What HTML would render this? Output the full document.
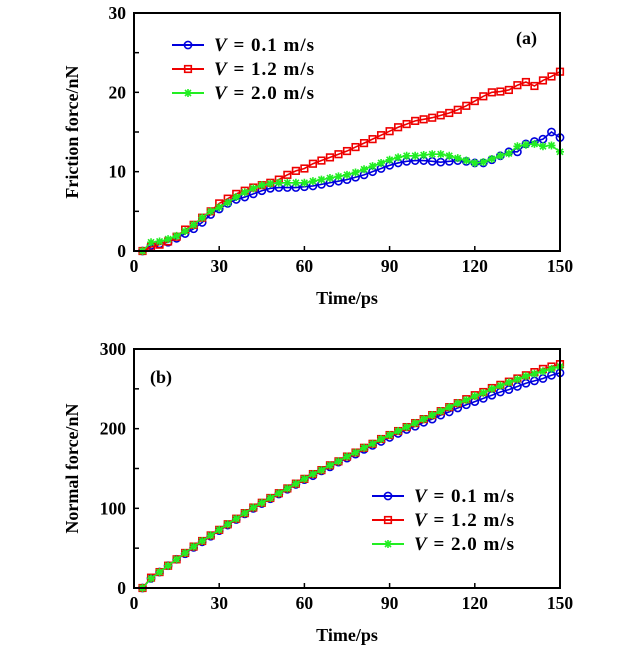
<!DOCTYPE html>
<html><head><meta charset="utf-8"><style>
body{margin:0;background:#fff}
svg text{font-family:"Liberation Serif",serif;font-weight:bold;fill:#000}
</style></head><body>
<svg id="chart" width="630" height="654" viewBox="0 0 630 654" xmlns="http://www.w3.org/2000/svg"></svg>
<script>
const times=[3,6,9,12,15,18,21,24,27,30,33,36,39,42,45,48,51,54,57,60,63,66,69,72,75,78,81,84,87,90,93,96,99,102,105,108,111,114,117,120,123,126,129,132,135,138,141,144,147,150];
const fricBlue=[0,0.7,0.9,1.1,1.6,2.2,2.8,3.6,4.6,5.3,6,6.5,6.8,7.2,7.6,7.9,8,8,8,8.1,8.2,8.4,8.6,8.8,9,9.3,9.6,10,10.4,10.8,11.1,11.3,11.4,11.4,11.3,11.2,11.3,11.4,11.3,11.1,11.1,11.5,12,12.5,12.5,13.5,13.8,14.1,15,14.3];
const fricRed=[0,0.5,0.8,1.2,1.8,2.7,3.3,4.2,5,6,6.6,7.2,7.6,8,8.3,8.6,9,9.6,10.1,10.4,11,11.4,11.8,12.2,12.6,13.1,13.6,14.1,14.6,15.1,15.6,16,16.4,16.6,16.8,17.1,17.4,17.8,18.3,18.9,19.5,20,20.1,20.3,20.9,21.3,20.8,21.5,22,22.6];
const fricGreen=[0,1.1,1.2,1.5,1.9,2.5,3.3,4.2,5,5.5,6.1,6.8,7.4,7.9,8.3,8.5,8.6,8.6,8.6,8.6,8.8,9,9.2,9.4,9.6,9.9,10.3,10.7,11.1,11.5,11.8,12,12,12.1,12.2,12.2,12,11.7,11.4,11.1,11.2,11.6,12,12.3,13.2,13.4,13.5,13.2,13.3,12.5];
const normBlue=[0,12,20,28,36,43,51,58,65,72,79,86,93,100,106,112,118,124,130,136,141,147,152,158,163,168,174,179,184,189,194,199,203,208,212,217,221,226,230,234,238,242,246,249,253,257,260,263,267,270];
const normRed=[0,13,20,28,36,44,52,59,66,73,80,87,94,101,107,113,119,125,131,137,143,148,154,159,165,170,176,181,187,192,197,202,207,212,217,222,227,232,237,242,246,251,255,259,263,267,271,275,278,281];
const normGreen=[0,12,20,28,36,44,52,59,66,73,80,87,94,101,107,113,119,125,131,137,143,148,154,159,165,170,176,181,187,192,197,202,207,212,217,222,227,232,236,241,245,250,254,258,262,266,269,272,275,278];
const xTicks=[0,30,60,90,120,150];
const fricTicks=[0,10,20,30];
const normTicks=[0,100,200,300];
const legendLabels=["0.1","1.2","2.0"];

const NS="http://www.w3.org/2000/svg";
const svg=document.getElementById('chart');
function mk(tag,attrs,parent){const e=document.createElementNS(NS,tag);for(const k in attrs)e.setAttribute(k,attrs[k]);(parent||svg).appendChild(e);return e;}
const X0=134,X1=560;
const xs=t=>X0+(t/150)*(X1-X0);

function marker(g,type,x,y,color){
  let m;
  if(type==='circle'){m=mk('circle',{cx:x,cy:y,r:3.6,fill:'none',stroke:color,'stroke-width':1.6},g);}
  else if(type==='square'){m=mk('rect',{x:x-3.3,y:y-3.3,width:6.6,height:6.6,fill:'none',stroke:color,'stroke-width':1.6},g);}
  else{m=mk('path',{d:`M${x-4},${y}H${x+4}M${x},${y-4}V${y+4}M${x-3},${y-3}L${x+3},${y+3}M${x-3},${y+3}L${x+3},${y-3}`,stroke:color,'stroke-width':1.6},g);}
  
  
}

function panel(name,Y0,Y1,ymax,yTicks,series,ylabel,tag,tagX,tagY,legX,legY){
  const ys=v=>Y1-(v/ymax)*(Y1-Y0);
  const g=mk('g',{});
  
  
  series.forEach(s=>{
    const sg=mk('g',{},g);
    
    
    mk('polyline',{points:times.map((t,i)=>xs(t)+','+ys(s.data[i])).join(' '),fill:'none',stroke:s.color,'stroke-width':1.6},sg);
    times.forEach((t,i)=>marker(sg,s.type,xs(t),ys(s.data[i]),s.color));
  });
  const fr=mk('rect',{x:X0,y:Y0,width:X1-X0,height:Y1-Y0,fill:'none',stroke:'#000','stroke-width':2},g);
  
  xTicks.forEach(t=>{
    mk('line',{x1:xs(t),x2:xs(t),y1:Y1,y2:Y1-5,stroke:'#000','stroke-width':1.5},g);
    const tx=mk('text',{x:xs(t),y:Y1+21,'text-anchor':'middle','font-size':17.5},g);tx.textContent=t;
    
  });
  const step=yTicks[1]-yTicks[0];
  for(let v=0;v<=ymax;v+=step/2){mk('line',{x1:X0,x2:X0+5,y1:ys(v),y2:ys(v),stroke:'#000','stroke-width':1.5},g);}
  yTicks.forEach(v=>{
    const tx=mk('text',{x:X0-8,y:ys(v)+6,'text-anchor':'end','font-size':17.5},g);tx.textContent=v;
    
  });
  const xl=mk('text',{x:(X0+X1)/2,y:Y1+53,'text-anchor':'middle','font-size':18},g);xl.textContent='Time/ps';
  
  const cy=(Y0+Y1)/2;
  const yl=mk('text',{x:78,y:cy,'text-anchor':'middle','font-size':18,transform:`rotate(-90 78 ${cy})`},g);yl.textContent=ylabel;
  
  const tg=mk('text',{x:tagX,y:tagY,'font-size':18},g);tg.textContent=tag;
  
  series.forEach((s,i)=>{
    const ly=legY+i*24;
    const lg=mk('g',{},g);
    
    
    mk('line',{x1:legX,x2:legX+32,y1:ly,y2:ly,stroke:s.color,'stroke-width':2},lg);
    marker(lg,s.type,legX+16,ly,s.color);
    const t=mk('text',{x:legX+42,y:ly+6,'font-size':19,'letter-spacing':1},lg);
    const it=mk('tspan',{'font-style':'italic'},t);it.textContent='V';
    const r=mk('tspan',{},t);r.textContent=' = '+legendLabels[i]+' m/s';
  });
}
panel('friction-panel',13,251,30,fricTicks,[
 {name:'series-v01',color:'#0000dd',type:'circle',data:fricBlue},
 {name:'series-v12',color:'#ee0000',type:'square',data:fricRed},
 {name:'series-v20',color:'#22ee22',type:'star',data:fricGreen}],
 'Friction force/nN','(a)',516,44,172,45);
panel('normal-panel',349,588,300,normTicks,[
 {name:'series-v01',color:'#0000dd',type:'circle',data:normBlue},
 {name:'series-v12',color:'#ee0000',type:'square',data:normRed},
 {name:'series-v20',color:'#22ee22',type:'star',data:normGreen}],
 'Normal force/nN','(b)',150,383,372,496);
</script>
</body></html>
